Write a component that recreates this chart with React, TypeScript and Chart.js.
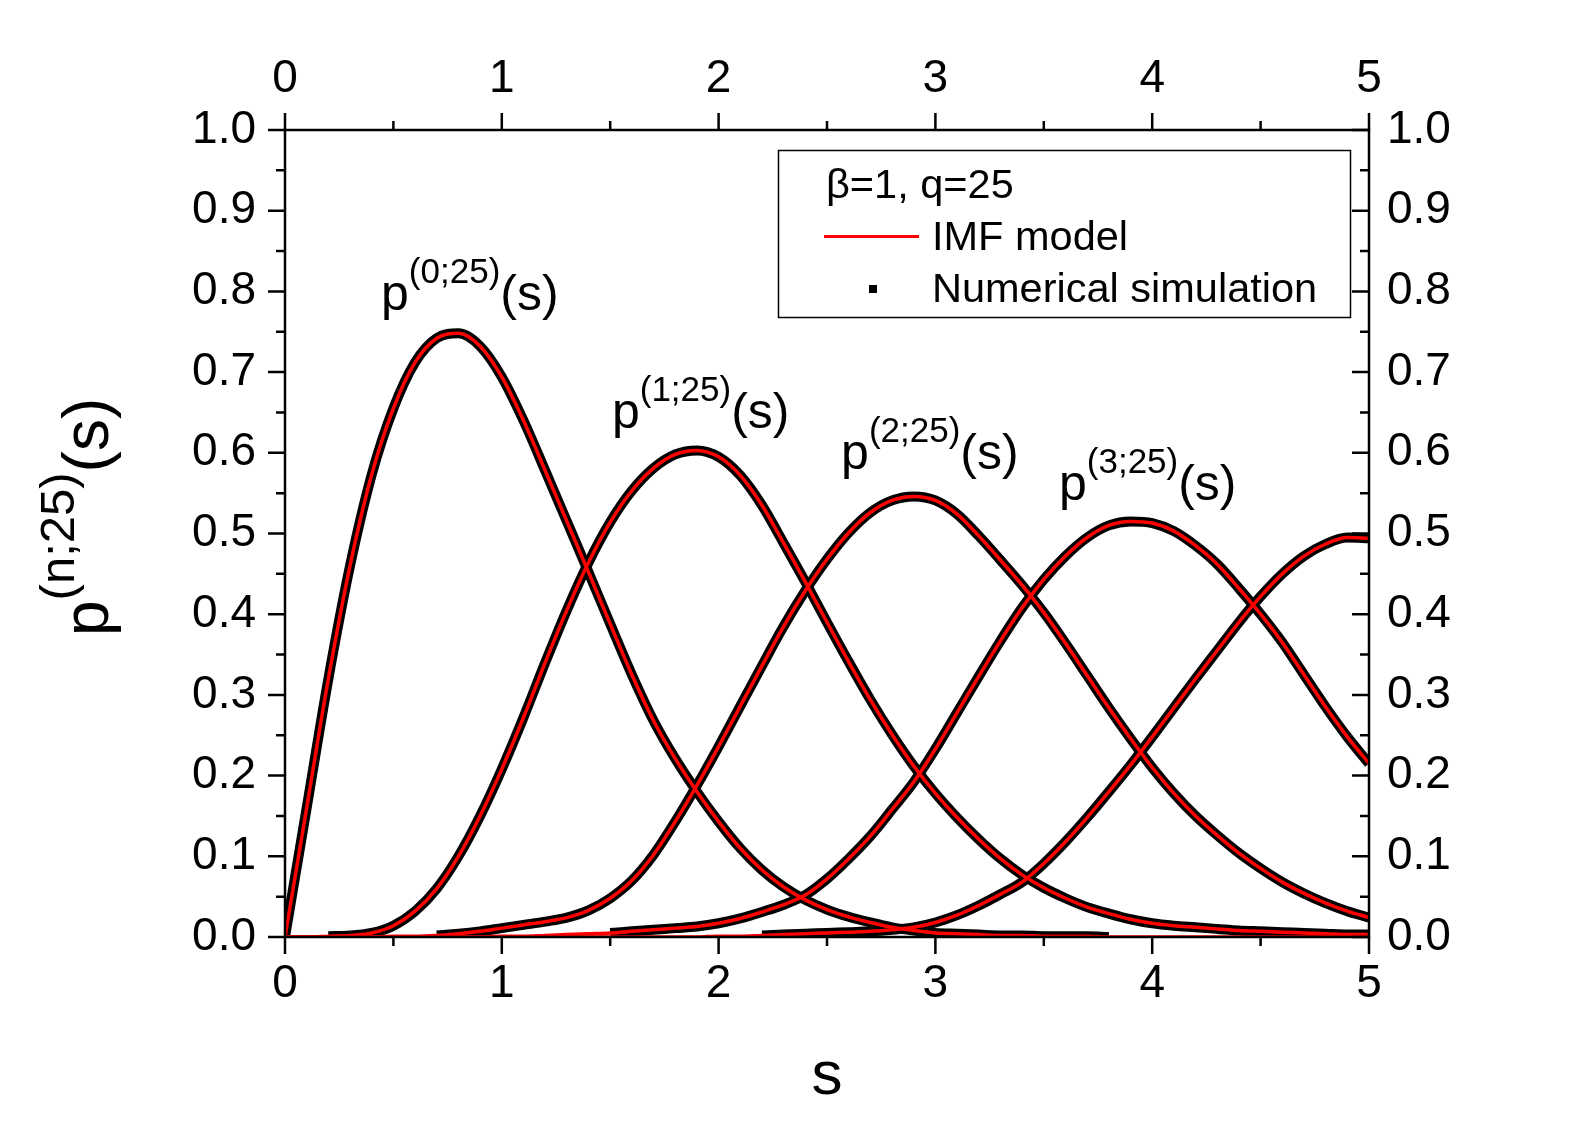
import { useEffect, useRef } from "react";
import { Chart, registerables } from "chart.js";

Chart.register(...registerables);

const FONT = "'Liberation Sans', Arial, sans-serif";

// s grid
const sValues = [
  0.0, 0.1, 0.2, 0.3, 0.4, 0.5, 0.6, 0.7, 0.8, 0.9,
  1.0, 1.1, 1.2, 1.3, 1.4, 1.5, 1.6, 1.7, 1.8, 1.9,
  2.0, 2.1, 2.2, 2.3, 2.4, 2.5, 2.6, 2.7, 2.8, 2.9,
  3.0, 3.1, 3.2, 3.3, 3.4, 3.5, 3.6, 3.7, 3.8, 3.9,
  4.0, 4.1, 4.2, 4.3, 4.4, 4.5, 4.6, 4.7, 4.8, 4.9,
  5.0,
];

// p^(n;25)(s)
const p0 = [
  0.000, 0.160, 0.320, 0.460, 0.573, 0.655, 0.712, 0.742, 0.748, 0.732,
  0.694, 0.640, 0.578, 0.515, 0.452, 0.388, 0.325, 0.268, 0.221, 0.180,
  0.143, 0.110, 0.083, 0.062, 0.046, 0.034, 0.025, 0.018, 0.012, 0.008,
  0.005, 0.004, 0.003, 0.002, 0.002, 0.001, 0.001, 0.001, 0.000, 0.000,
  0.000, 0.000, 0.000, 0.000, 0.000, 0.000, 0.000, 0.000, 0.000, 0.000,
  0.000,
];
const p1 = [
  0.000, 0.000, 0.001, 0.002, 0.005, 0.014, 0.032, 0.060, 0.100, 0.150,
  0.208, 0.272, 0.340, 0.405, 0.464, 0.514, 0.553, 0.581, 0.598, 0.603,
  0.595, 0.572, 0.535, 0.488, 0.440, 0.390, 0.341, 0.294, 0.251, 0.212,
  0.178, 0.148, 0.121, 0.097, 0.077, 0.061, 0.048, 0.037, 0.029, 0.022,
  0.017, 0.014, 0.012, 0.010, 0.008, 0.007, 0.006, 0.005, 0.004, 0.003,
  0.003,
];
const p2 = [
  0.000, 0.000, 0.000, 0.000, 0.000, 0.001, 0.001, 0.002, 0.004, 0.007,
  0.011, 0.015, 0.019, 0.024, 0.033, 0.048, 0.070, 0.102, 0.143, 0.188,
  0.236, 0.286, 0.336, 0.385, 0.429, 0.468, 0.501, 0.526, 0.541, 0.546,
  0.541, 0.524, 0.497, 0.467, 0.436, 0.402, 0.364, 0.324, 0.284, 0.246,
  0.210, 0.178, 0.150, 0.126, 0.104, 0.085, 0.068, 0.054, 0.042, 0.032,
  0.024,
];
const p3 = [
  0.000, 0.000, 0.000, 0.000, 0.000, 0.000, 0.000, 0.000, 0.000, 0.000,
  0.001, 0.001, 0.002, 0.003, 0.004, 0.005, 0.007, 0.009, 0.011, 0.013,
  0.017, 0.023, 0.031, 0.040, 0.052, 0.072, 0.097, 0.125, 0.158, 0.192,
  0.233, 0.278, 0.323, 0.367, 0.408, 0.443, 0.472, 0.495, 0.510, 0.515,
  0.513, 0.503, 0.485, 0.462, 0.432, 0.400, 0.365, 0.325, 0.285, 0.248,
  0.215,
];
const p4 = [
  0.000, 0.000, 0.000, 0.000, 0.000, 0.000, 0.000, 0.000, 0.000, 0.000,
  0.000, 0.000, 0.000, 0.000, 0.000, 0.000, 0.000, 0.000, 0.000, 0.000,
  0.001, 0.001, 0.002, 0.003, 0.004, 0.005, 0.006, 0.007, 0.009, 0.012,
  0.018, 0.027, 0.039, 0.053, 0.068, 0.091, 0.118, 0.148, 0.180, 0.213,
  0.248, 0.284, 0.320, 0.355, 0.390, 0.422, 0.450, 0.472, 0.487, 0.495,
  0.494,
];
const curves = [p0, p1, p2, p3, p4];

// s-range covered by the simulated points of each curve
const simStart = [0.0, 0.2, 0.7, 1.5, 2.2];
const simEnd = [3.8, 5.0, 5.0, 5.0, 5.0];

// axis ticks
const xMajorTicks = [0, 1, 2, 3, 4, 5];
const xMinorTicks = [0.5, 1.5, 2.5, 3.5, 4.5];
const yMajorTicks = [0, 0.1, 0.2, 0.3, 0.4, 0.5, 0.6, 0.7, 0.8, 0.9, 1.0];
const yMinorTicks = [0.05, 0.15, 0.25, 0.35, 0.45, 0.55, 0.65, 0.75, 0.85, 0.95];

const curveTags = ["(0;25)", "(1;25)", "(2;25)", "(3;25)"];
const legendTitle = "\u03b2=1, q=25";
const modelName = "IMF model";
const simName = "Numerical simulation";

// where each curve tag sits (s, p) - layout only
const tagPos = [
  [0.443, 0.777],
  [1.508, 0.631],
  [2.565, 0.58],
  [3.57, 0.541],
];

const drawSup = (
  ctx: CanvasRenderingContext2D,
  x: number,
  y: number,
  tag: string,
  size: number,
  supSize: number,
  raise: number
) => {
  ctx.font = `${size}px ${FONT}`;
  ctx.fillText("p", x, y);
  let w = ctx.measureText("p").width;
  ctx.font = `${supSize}px ${FONT}`;
  ctx.fillText(tag, x + w, y - raise);
  w += ctx.measureText(tag).width;
  ctx.font = `${size}px ${FONT}`;
  ctx.fillText("(s)", x + w, y);
};

const decor = {
  id: "decor",
  afterDraw(chart: Chart) {
    const { ctx, chartArea: a, scales } = chart;
    const xs = scales.x;
    const ys = scales.y;
    ctx.save();
    ctx.strokeStyle = "#000";
    ctx.fillStyle = "#000";

    // frame
    ctx.lineWidth = 2.5;
    ctx.strokeRect(a.left, a.top, a.right - a.left, a.bottom - a.top);

    // ticks: outward on bottom, top and left, inward on the right
    const xtick = (vals: number[], len: number) => {
      vals.forEach((v) => {
        const px = xs.getPixelForValue(v);
        ctx.beginPath();
        ctx.moveTo(px, a.bottom);
        ctx.lineTo(px, a.bottom + len);
        ctx.moveTo(px, a.top);
        ctx.lineTo(px, a.top - len);
        ctx.stroke();
      });
    };
    const ytick = (vals: number[], len: number) => {
      vals.forEach((v) => {
        const py = ys.getPixelForValue(v);
        ctx.beginPath();
        ctx.moveTo(a.left, py);
        ctx.lineTo(a.left - len, py);
        ctx.moveTo(a.right, py);
        ctx.lineTo(a.right - len, py);
        ctx.stroke();
      });
    };
    xtick(xMajorTicks, 17);
    xtick(xMinorTicks, 9);
    ytick(yMajorTicks, 17);
    ytick(yMinorTicks, 9);

    // curve tags
    ctx.textAlign = "left";
    ctx.textBaseline = "alphabetic";
    curveTags.forEach((t, i) => {
      const [s, p] = tagPos[i];
      drawSup(ctx, xs.getPixelForValue(s), ys.getPixelForValue(p), t, 50, 35, 27);
    });

    // axis titles
    ctx.textAlign = "center";
    ctx.font = `62px ${FONT}`;
    ctx.fillText("s", (a.left + a.right) / 2, 1094);

    ctx.save();
    ctx.translate(108, 636);
    ctx.rotate(-Math.PI / 2);
    ctx.textAlign = "left";
    drawSup(ctx, 0, 0, "(n;25)", 64, 49, 34);
    ctx.restore();

    // legend
    ctx.lineWidth = 1.5;
    ctx.strokeRect(778.5, 150.5, 572, 167);
    ctx.textAlign = "left";
    ctx.font = `41.5px ${FONT}`;
    ctx.fillText(legendTitle, 826, 198);
    ctx.fillText(modelName, 932, 250);
    ctx.fillText(simName, 932, 302);
    ctx.strokeStyle = "#ff0000";
    ctx.lineWidth = 3;
    ctx.beginPath();
    ctx.moveTo(824, 236.5);
    ctx.lineTo(919, 236.5);
    ctx.stroke();
    ctx.fillRect(869, 285, 8, 8);

    ctx.restore();
  },
};

export default function App() {
  const canvasRef = useRef<HTMLCanvasElement>(null);

  useEffect(() => {
    if (!canvasRef.current) return;

    const model = curves.map((c, i) => ({
      label: `model ${i}`,
      data: sValues.map((s, k) => ({ x: s, y: c[k] })),
      borderColor: "#ff0000",
      borderWidth: 3.5,
      pointRadius: 0,
      cubicInterpolationMode: "monotone" as const,
    }));
    const sim = curves.map((c, i) => ({
      label: `sim ${i}`,
      data: sValues.map((s, k) => ({
        x: s,
        y: s >= simStart[i] - 1e-9 && s <= simEnd[i] + 1e-9 ? c[k] : null,
      })),
      borderColor: "#000000",
      borderWidth: 10,
      pointRadius: 0,
      cubicInterpolationMode: "monotone" as const,
    }));

    const tickFont = { size: 46, family: FONT };
    const hideGrid = { display: false, drawTicks: false };

    const chart = new Chart(canvasRef.current, {
      type: "line",
      data: { datasets: [...model, ...sim] },
      options: {
        animation: false,
        responsive: true,
        maintainAspectRatio: false,
        layout: { padding: 0 },
        plugins: { legend: { display: false }, tooltip: { enabled: false } },
        scales: {
          x: {
            type: "linear",
            position: "bottom",
            min: 0,
            max: 5,
            grid: hideGrid,
            border: { display: false },
            ticks: { stepSize: 1, font: tickFont, color: "#000", padding: 20, maxRotation: 0, autoSkip: false },
            afterFit: (s) => {
              s.height = 186;
            },
          },
          x2: {
            type: "linear",
            position: "top",
            min: 0,
            max: 5,
            grid: hideGrid,
            border: { display: false },
            ticks: { stepSize: 1, font: tickFont, color: "#000", padding: 23, maxRotation: 0, autoSkip: false },
            afterFit: (s) => {
              s.height = 130;
            },
          },
          y: {
            type: "linear",
            position: "left",
            min: 0,
            max: 1,
            grid: hideGrid,
            border: { display: false },
            ticks: {
              stepSize: 0.1,
              font: tickFont,
              color: "#000",
              padding: 29,
              autoSkip: false,
              callback: (v) => Number(v).toFixed(1),
            },
            afterFit: (s) => {
              s.width = 285;
            },
          },
          y2: {
            type: "linear",
            position: "right",
            min: 0,
            max: 1,
            grid: hideGrid,
            border: { display: false },
            ticks: {
              stepSize: 0.1,
              font: tickFont,
              color: "#000",
              padding: 18,
              autoSkip: false,
              callback: (v) => Number(v).toFixed(1),
            },
            afterFit: (s) => {
              s.width = 221;
            },
          },
        },
      },
      plugins: [decor],
    });

    return () => {
      chart.destroy();
    };
  }, []);

  return (
    <div style={{ position: "fixed", left: 0, top: 0, width: 1590, height: 1123, background: "#fff" }}>
      <canvas ref={canvasRef} />
    </div>
  );
}
